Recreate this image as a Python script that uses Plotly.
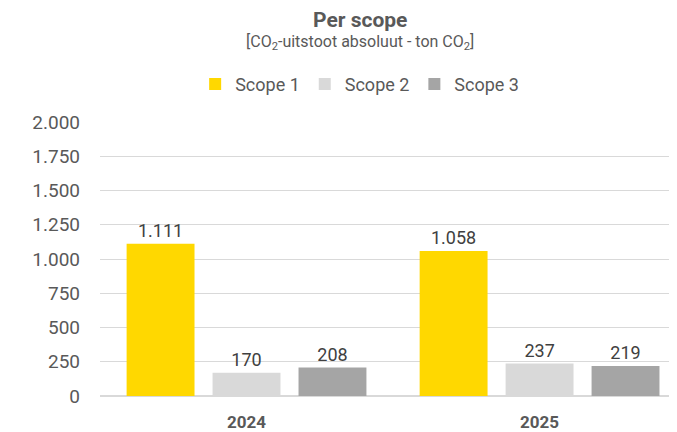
"""
Per scope bar chart - CO2 emissions per scope (absolute, ton CO2).
"""

import plotly.graph_objects as go

# Data
years = ["2024", "2025"]
series_names = ["Scope 1", "Scope 2", "Scope 3"]
scope1 = [1111, 1058]
scope2 = [170, 237]
scope3 = [208, 219]
series_colors = ["#FFD800", "#D9D9D9", "#A5A5A5"]
y_ticks = [0, 250, 500, 750, 1000, 1250, 1500, 1750, 2000]

FONT = "Roboto, 'Noto Sans', sans-serif"
TEXT = "#595959"

fig = go.Figure()
for name, vals, col in zip(series_names, [scope1, scope2, scope3], series_colors):
    fig.add_trace(go.Bar(
        x=years,
        y=vals,
        name=name,
        marker=dict(color=col, line=dict(width=0)),
        texttemplate="%{y:,.0f}",
        textposition="outside",
        textfont=dict(size=18, color="#404040", family=FONT),
        cliponaxis=False,
    ))

# page body has an 8px margin, so the figure is sized/offset to compensate
fig.update_layout(
    width=669,
    height=424,
    barmode="group",
    bargap=0.12,
    bargroupgap=0.21,
    separators=",.",
    paper_bgcolor="white",
    plot_bgcolor="white",
    font=dict(family=FONT, size=16, color=TEXT),
    margin=dict(l=92, r=0, t=114, b=36),
    showlegend=True,
    legend=dict(
        orientation="h",
        x=0.45,
        xanchor="center",
        y=1.205,
        yanchor="top",
        font=dict(size=18, color=TEXT),
        itemwidth=30,
    ),
    xaxis=dict(
        type="category",
        range=[-0.5, 1.469],
        showgrid=False,
        showline=False,
        ticks="",
        ticklabelstandoff=14,
        tickfont=dict(size=17, color=TEXT, family=FONT, weight="bold"),
    ),
    yaxis=dict(
        range=[0, 2000],
        tickvals=y_ticks,
        separatethousands=True,
        tickformat=",d",
        showgrid=True,
        gridcolor="#D9D9D9",
        gridwidth=1,
        zeroline=True,
        zerolinecolor="#D9D9D9",
        showline=False,
        ticks="",
        ticklabelstandoff=19,
        tickfont=dict(size=19, color=TEXT),
    ),
    annotations=[
        dict(
            text="<b>Per scope</b>",
            xref="paper", yref="paper",
            x=0.45, y=1.372, xanchor="center", yanchor="middle",
            showarrow=False,
            font=dict(size=21, color=TEXT, family=FONT),
        ),
        dict(
            text="[CO<sub>2</sub>-uitstoot absoluut - ton CO<sub>2</sub>]",
            xref="paper", yref="paper",
            x=0.45, y=1.29, xanchor="center", yanchor="middle",
            showarrow=False,
            font=dict(size=16, color=TEXT, family=FONT),
        ),
    ],
)

fig.write_html("out.html")
